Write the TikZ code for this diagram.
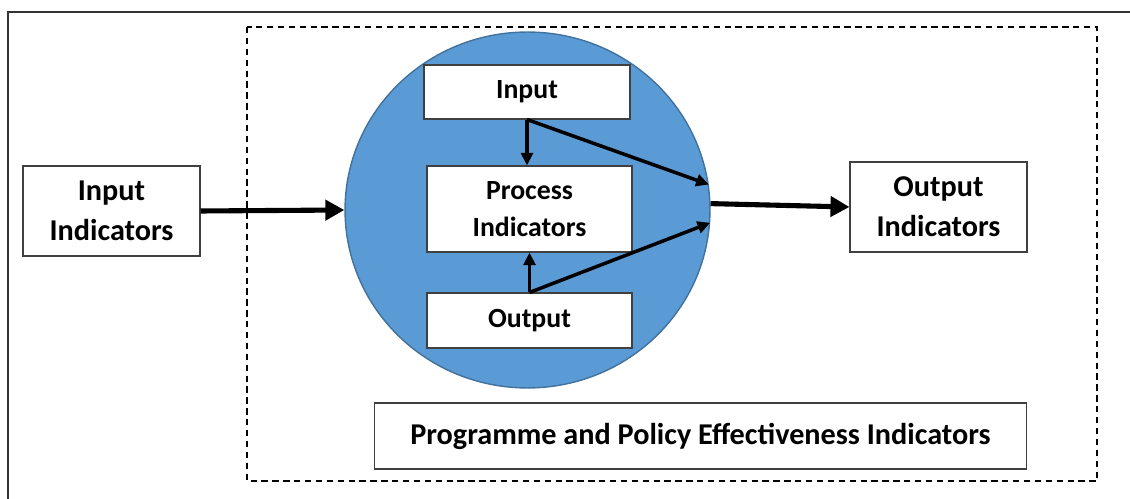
\documentclass[tikz,border=0pt]{standalone}
\usepackage{fontspec}
\setmainfont{Carlito}
\usetikzlibrary{shapes.geometric,arrows.meta}

\begin{document}
\begin{tikzpicture}[
    x=0.02cm, y=-0.02cm,
    box/.style={rectangle, draw=black!75, line width=0.6pt, fill=white, inner sep=0pt, align=center, font=\fontsize{17.2}{23}\selectfont\bfseries},
    smallbox/.style={box, font=\fontsize{15.8}{21}\selectfont\bfseries},
    bigarrow/.style={-{Triangle[length=10.8pt, width=11.3pt]}, line width=2.9pt},
    arrow/.style={-{Triangle[length=7.2pt, width=6.8pt]}, line width=2pt}
]

\useasboundingbox (0,0) rectangle (1130,499);
\draw[black!80, line width=0.6pt] (8,499) |- (1130,12);
\draw[line width=1.3pt, dash pattern=on 3.6pt off 2.6pt] (247,27) rectangle (1097,481);

\node[ellipse, draw={rgb,255:red,65;green,113;blue,156}, line width=0.8pt, fill={rgb,255:red,91;green,155;blue,213}, minimum width=7.3cm, minimum height=7.12cm, inner sep=0pt] (circ) at (527.5,210) {};

\node[box, minimum width=3.54cm, minimum height=1.8cm] (inind) at (111.5,211) {Input\\Indicators};
\node[box, minimum width=3.54cm, minimum height=1.8cm] (outind) at (938.5,207) {Output\\Indicators};
\node[smallbox, minimum width=4.12cm, minimum height=1.08cm] (inp) at (527,92) {Input};
\node[smallbox, minimum width=4.1cm, minimum height=1.72cm] (proc) at (529.5,209) {Process\\Indicators};
\node[smallbox, minimum width=4.1cm, minimum height=1.1cm] (outp) at (529.5,320.5) {Output};
\node[box, minimum width=13.06cm, minimum height=1.32cm] (prog) at (700.5,436) {Programme and Policy Effectiveness Indicators};

\draw[bigarrow] (inind.east) -- (circ.west);
\draw[bigarrow] (circ.2) -- (outind.west);

\draw[arrow] (inp.south) -- (inp.south |- proc.north);
\draw[arrow] (inp.south) -- (circ.8.5);
\draw[arrow] (outp.north) -- (outp.north |- proc.south);
\draw[arrow] (outp.north) -- (circ.-4.7);

\end{tikzpicture}
\end{document}
